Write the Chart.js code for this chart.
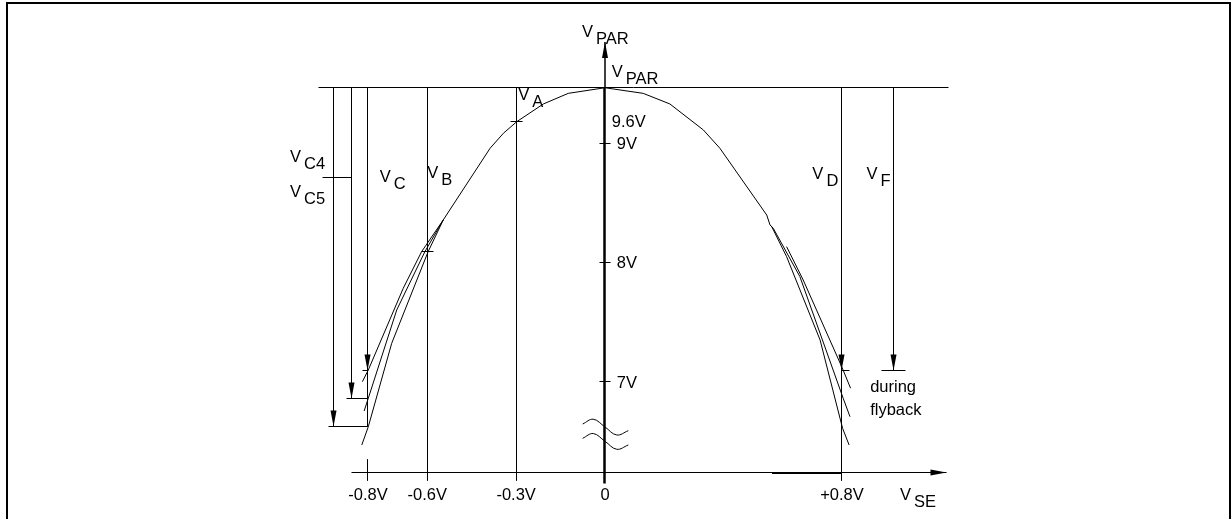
<!DOCTYPE html>
<html>
<head>
<meta charset="utf-8">
<script src="https://cdn.jsdelivr.net/npm/chart.js@4.4.1/dist/chart.umd.min.js"></script>
<style>
    html, body { margin: 0; padding: 0; background: #fff; overflow: hidden; }
    #wrap { position: relative; width: 1231px; height: 519px; }
    #frame {
        position: absolute; left: 6px; top: 2px; width: 1221px; height: 600px;
        border: 2px solid #000; border-bottom: none; pointer-events: none;
    }
</style>
</head>
<body>
<div id="wrap">
    <canvas id="chart" width="1231" height="519"></canvas>
    <div id="frame"></div>
</div>
<script>
// axis values (V)
const xTickValues = [-0.8, -0.6, -0.3, 0, 0.8];
const xTickLabels = ['-0.8V', '-0.6V', '-0.3V', '0', '+0.8V'];
const yTickValues = [9, 8, 7];
const yTickLabels = ['9V', '8V', '7V'];

// levels
const vParLevel = 9.466;
const xAxisLevel = 6.237;
const axisBottom = 6.148;
const axisTop = 9.852;
const tickBottom = 6.175;
const vCLevel = 7.098;
const vC5Level = 6.861;
const vC4Level = 6.622;
const vDLevel = 7.09;
const vC45Mark = 8.711;

// parabola, left half + three branches
const curveLeftTop = [[0, 9.466], [-0.124, 9.419], [-0.208, 9.330], [-0.298, 9.181], [-0.343, 9.084], [-0.388, 8.958], [-0.546, 8.357]];
const curveLeftA = [[-0.546, 8.357], [-0.619, 8.091], [-0.681, 7.784], [-0.799, 7.098], [-0.819, 7.000]];
const curveLeftB = [[-0.546, 8.357], [-0.608, 8.091], [-0.703, 7.602], [-0.799, 6.861], [-0.813, 6.754]];
const curveLeftC = [[-0.546, 8.357], [-0.597, 8.091], [-0.720, 7.322], [-0.799, 6.622], [-0.821, 6.469]];

// parabola, right half + three branches
const curveRightTop = [[0, 9.466], [0.129, 9.419], [0.219, 9.330], [0.332, 9.112], [0.388, 8.958], [0.546, 8.398], [0.557, 8.315]];
const curveRightA = [[0.613, 8.133], [0.669, 7.853], [0.799, 7.126], [0.829, 6.945]];
const curveRightB = [[0.557, 8.315], [0.568, 8.287], [0.658, 7.881], [0.804, 6.861], [0.827, 6.706]];
const curveRightC = [[0.557, 8.315], [0.563, 8.300], [0.613, 8.049], [0.726, 7.350], [0.802, 6.609], [0.824, 6.469]];

// marks on the curve
const curveMarks = [[-0.3, 9.181], [-0.6, 8.091]];

// axis break
const breakUpper = [[-0.0753, 6.645], [-0.0395, 6.685], [0, 6.620], [0.0395, 6.553], [0.0787, 6.589]];
const breakLower = [[-0.0753, 6.525], [-0.0395, 6.565], [0, 6.500], [0.0395, 6.433], [0.0787, 6.469]];

// vertical guide positions
const xVC4 = -0.915;
const xVC5 = -0.855;
const xVF = 0.973;

const FONT = '16.5px "Liberation Sans", Arial, sans-serif';

function pts(arr) {
    return arr.map(p => ({ x: p[0], y: p[1] }));
}

// straight segment (snapped to pixel grid when drawn)
function seg(data, opts) {
    return Object.assign({
        data: pts(data),
        showLine: true,
        borderColor: '#000',
        backgroundColor: '#000',
        borderWidth: 1,
        pointRadius: 0,
        tension: 0,
        fill: false,
        snap: true
    }, opts || {});
}

const datasets = [];

// frame lines and axes
datasets.push(seg([[-0.968, vParLevel], [1.158, vParLevel]]));
datasets.push(seg([[-0.855, xAxisLevel], [1.153, xAxisLevel]], { arrow: true }));
datasets.push(seg([[0.563, xAxisLevel], [0.8, xAxisLevel]], { borderWidth: 2 }));
datasets.push(seg([[0, axisBottom], [0, vParLevel]], { borderWidth: 2.5 }));
datasets.push(seg([[0, vParLevel], [0, axisTop]], { borderWidth: 1.5, arrow: true }));

// y ticks
yTickValues.forEach(v => datasets.push(seg([[-0.017, v], [0.017, v]])));

// guides at -0.6 / -0.3
datasets.push(seg([[-0.6, vParLevel], [-0.6, tickBottom]]));
datasets.push(seg([[-0.3, vParLevel], [-0.3, tickBottom]]));

// VC, VC4, VC5
datasets.push(seg([[-0.8, vParLevel], [-0.8, vCLevel]], { arrow: true }));
datasets.push(seg([[-0.8, vCLevel], [-0.8, vC4Level]]));
datasets.push(seg([[-0.8, 6.343], [-0.8, tickBottom]]));
datasets.push(seg([[-0.82, vCLevel], [-0.8, vCLevel]]));
datasets.push(seg([[xVC5, vParLevel], [xVC5, vC5Level]], { arrow: true }));
datasets.push(seg([[xVC4, vParLevel], [xVC4, vC4Level]], { arrow: true }));
datasets.push(seg([[-0.874, vC5Level], [-0.8, vC5Level]]));
datasets.push(seg([[-0.934, vC4Level], [-0.8, vC4Level]]));
datasets.push(seg([[-0.952, vC45Mark], [xVC5, vC45Mark]]));

// VD, VF
datasets.push(seg([[0.8, vParLevel], [0.8, vDLevel]], { arrow: true }));
datasets.push(seg([[0.8, vDLevel], [0.8, tickBottom]]));
datasets.push(seg([[0.8, vDLevel], [0.827, vDLevel]]));
datasets.push(seg([[xVF, vParLevel], [xVF, vDLevel]], { arrow: true }));
datasets.push(seg([[0.934, vDLevel], [1.013, vDLevel]]));

// curves
[curveLeftTop, curveLeftA, curveLeftB, curveLeftC,
 curveRightTop, curveRightA, curveRightB, curveRightC].forEach(c => datasets.push(seg(c, { snap: false })));
curveMarks.forEach(m => datasets.push(seg([[m[0] - 0.02, m[1]], [m[0] + 0.02, m[1]]])));

// axis break
datasets.push(seg(breakUpper, { tension: 0.4, snap: false }));
datasets.push(seg(breakLower, { tension: 0.4, snap: false }));

// text labels (V + subscript)
const annotations = [
    { text: 'V', sub: 'PAR', x: -0.078, y: 9.893 },
    { text: 'V', sub: 'PAR', x: 0.023, y: 9.558 },
    { text: 'V', sub: 'A', x: -0.293, y: 9.362 },
    { text: '9.6V', x: 0.023, y: 9.138 },
    { text: 'V', sub: 'C4', x: -1.063, y: 8.845 },
    { text: 'V', sub: 'C5', x: -1.063, y: 8.551 },
    { text: 'V', sub: 'C', x: -0.760, y: 8.677 },
    { text: 'V', sub: 'B', x: -0.600, y: 8.705 },
    { text: 'V', sub: 'D', x: 0.700, y: 8.700 },
    { text: 'V', sub: 'F', x: 0.883, y: 8.700 },
    { text: 'during', x: 0.895, y: 6.916 },
    { text: 'flyback', x: 0.895, y: 6.721 },
    { text: 'V', sub: 'SE', x: 0.996, y: 6.008 }
];

// keep thin straight lines crisp
const snapPlugin = {
    id: 'pixelSnap',
    beforeDatasetsDraw(chart) {
        chart.data.datasets.forEach((ds, i) => {
            if (!ds.snap) return;
            const odd = Math.round(ds.borderWidth) % 2 === 1;
            chart.getDatasetMeta(i).data.forEach(el => {
                el.x = odd ? Math.floor(el.x) + 0.5 : Math.round(el.x);
                el.y = odd ? Math.floor(el.y) + 0.5 : Math.round(el.y);
            });
        });
    }
};

const arrowPlugin = {
    id: 'arrowHeads',
    afterDatasetsDraw(chart) {
        const ctx = chart.ctx;
        chart.data.datasets.forEach((ds, i) => {
            if (!ds.arrow) return;
            const el = chart.getDatasetMeta(i).data;
            const tip = el[el.length - 1];
            const prev = el[el.length - 2];
            const ang = Math.atan2(tip.y - prev.y, tip.x - prev.x);
            ctx.save();
            ctx.translate(tip.x, tip.y);
            ctx.rotate(ang);
            ctx.beginPath();
            ctx.moveTo(0, 0);
            ctx.lineTo(-16, -3);
            ctx.lineTo(-16, 3);
            ctx.closePath();
            ctx.fillStyle = '#000';
            ctx.fill();
            ctx.restore();
        });
    }
};

const labelPlugin = {
    id: 'diagramLabels',
    afterDraw(chart) {
        const ctx = chart.ctx;
        const xs = chart.scales.x;
        const ys = chart.scales.y;
        ctx.save();
        ctx.font = FONT;
        ctx.fillStyle = '#000';
        ctx.textBaseline = 'alphabetic';

        // x tick labels
        ctx.textAlign = 'center';
        const xLabelY = ys.getPixelForValue(6.008);
        xTickValues.forEach((v, i) => {
            ctx.fillText(xTickLabels[i], xs.getPixelForValue(v), xLabelY);
        });

        // y tick labels
        ctx.textAlign = 'left';
        yTickValues.forEach((v, i) => {
            ctx.fillText(yTickLabels[i], xs.getPixelForValue(0.0395), ys.getPixelForValue(v) + 5.9);
        });

        annotations.forEach(a => {
            const px = xs.getPixelForValue(a.x);
            const py = ys.getPixelForValue(a.y);
            ctx.fillText(a.text, px, py);
            if (a.sub) {
                const w = ctx.measureText(a.text).width;
                ctx.fillText(a.sub, px + w + 3, py + 7);
            }
        });
        ctx.restore();
    }
};

new Chart(document.getElementById('chart'), {
    type: 'scatter',
    data: { datasets: datasets },
    options: {
        responsive: false,
        animation: false,
        devicePixelRatio: 1,
        layout: { padding: 0 },
        plugins: {
            legend: { display: false },
            tooltip: { enabled: false }
        },
        scales: {
            x: { type: 'linear', min: -2.0422, max: 2.1131, display: false },
            y: { type: 'linear', min: 5.848, max: 10.2022, display: false }
        }
    },
    plugins: [snapPlugin, arrowPlugin, labelPlugin]
});
</script>
</body>
</html>
